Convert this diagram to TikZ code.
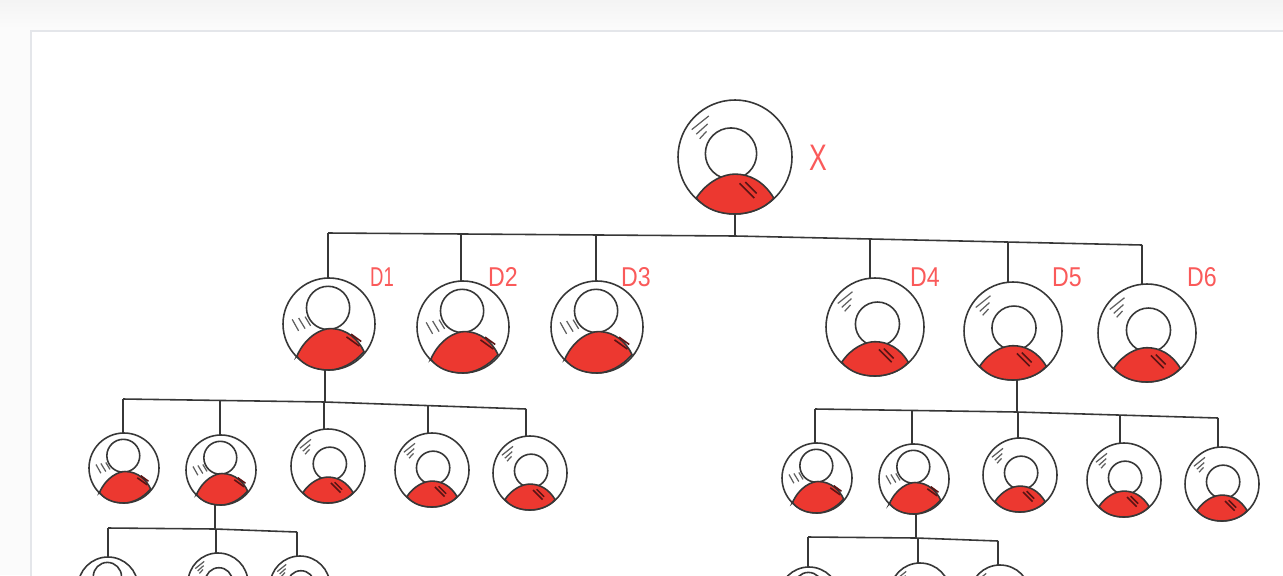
\documentclass[tikz,border=0pt]{standalone}
\usepackage{fontspec}
\setmainfont{Liberation Sans}

\newcommand{\drawhatch}[2]{\foreach \a/\b/\c/\d in {#2} {\draw[#1] (\a,\b) -- (\c,\d);}}
\newcommand{\drawbody}{\draw[body] (-.7,.7) .. controls (-.5,.25) and (-.15,.1) .. (.03,.1) .. controls (.4,.1) and (.65,.35) .. (.76,.6) .. controls (.55,.85) and (.25,1) .. (0,1) .. controls (-.3,1) and (-.55,.9) .. cycle;}

\begin{document}
\begin{tikzpicture}[x=0.02cm, y=-0.02cm,
    outline/.style={draw=inkgray, line width=0.9pt, circle, inner sep=0pt, outer sep=0pt, fill=white},
    head/.style={draw=inkgray, line width=0.9pt},
    body/.style={draw=inkgray, line width=0.9pt, fill=bodyred},
    hatch/.style={draw=inkgray!80, line width=0.7pt},
    bodyhatch/.style={draw=hatchred, line width=0.9pt},
    link/.style={draw=inkgray, line width=0.9pt},
    tag/.style={text=tagred, inner sep=0pt}]

\def\unit{0.02}
\def\textsize{1.55}
\definecolor{inkgray}{RGB}{55,55,55}
\definecolor{bodyred}{RGB}{236,56,48}
\definecolor{hatchred}{RGB}{90,20,20}
\definecolor{tagred}{RGB}{250,90,90}
\definecolor{pagegray}{RGB}{251,251,251}
\definecolor{shadowgray}{RGB}{244,244,244}
\definecolor{cardgray}{RGB}{228,230,234}

\useasboundingbox (0,0) rectangle (1283,575);
\clip (0,0) rectangle (1283,575);

% page and card
\fill[pagegray] (0,0) rectangle (1283,575);
\shade[top color=shadowgray, bottom color=pagegray] (0,0) rectangle (1283,28);
\draw[cardgray, line width=1.2pt, fill=white] (31,31) rectangle (1300,600);

% people, head high with strokes inside
\foreach \name/\x/\y/\rad in {D1/329/324/46, D2/463/327/46, D3/597/327/46,
    A1/124/468/35, A2/221/470/35, B1/817/478/35, B2/914/479/35, C1/108/587/30, E1/809/597/30} {
  \node[outline, minimum size={2*\rad*\unit cm}] (\name) at (\x,\y) {};
  \begin{scope}[shift={(\x,\y)}, scale=\rad]
    \draw[head] (-.02,-.35) circle (.47);
    \drawbody
    \drawhatch{hatch}{-.8/-.1/-.66/.15, -.66/-.13/-.52/.1, -.52/-.16/-.4/.04}
    \drawhatch{bodyhatch}{.38/.28/.66/.48, .48/.22/.7/.38}
  \end{scope}
}

% people, head low with strokes on the rim
\foreach \name/\x/\y/\rad/\hx in {X/735/157/57/-.07, D4/875/327/49/.05, D5/1013/331/49/.02, D6/1147/333/49/.03,
    A3/328/466/37/.05, A4/432/470/37/.03, A5/530/473/37/.03, B3/1020/475/37/.03, B4/1124/480/37/.03, B5/1222/484/37/.03,
    C2/218/583/30/.03, C3/300/586/30/.03, E2/920/593/30/.03, E3/1000/595/30/.03} {
  \node[outline, minimum size={2*\rad*\unit cm}] (\name) at (\x,\y) {};
  \begin{scope}[shift={(\x,\y)}, scale=\rad]
    \draw[head] (\hx,-.06) circle (.45);
    \draw[body] (-.68,.72) .. controls (-.48,.42) and (-.2,.3) .. (0,.3) .. controls (.25,.3) and (.5,.42) .. (.68,.72) .. controls (.5,.93) and (.2,1) .. (0,1) .. controls (-.25,1) and (-.5,.93) .. cycle;
    \drawhatch{hatch}{-.76/-.48/-.46/-.72, -.68/-.4/-.48/-.58, -.62/-.32/-.5/-.45}
    \drawhatch{bodyhatch}{.08/.46/.34/.72, .18/.44/.38/.64}
  \end{scope}
}

% junctions on the bars
\foreach \name/\x/\y in {tX/735/236, tD1/328/233, tD2/461/234, tD3/596/235, tD4/870/239, tD5/1008/242, tD6/1142/245,
    tL/325/402, tA1/123/399, tA2/220/400, tA3/324/402, tA4/428/405, tA5/526/409,
    tR/1017/412, tB1/815/409, tB2/912/410, tB3/1018/412, tB4/1120/415, tB5/1218/418,
    tM/215/529, tC1/108/528, tC2/216/529, tC3/297/532,
    tN/916/538, tE1/808/537, tE2/918/538, tE3/998/541} {
  \coordinate (\name) at (\x,\y);
}

% bars
\draw[link] (tD1) -- (tX) -- (tD6);
\draw[link] (tA1) -- (tL) -- (tA5);
\draw[link] (tB1) -- (tR) -- (tB5);
\draw[link] (tC1) -- (tM) -- (tC3);
\draw[link] (tE1) -- (tN) -- (tE3);

% drops and trunks
\foreach \child in {D1,D2,D3,D4,D5,D6,A1,A2,A3,A4,A5,B1,B2,B3,B4,B5,C1,C2,C3,E1,E2,E3} {
  \draw[link] (t\child) -- (\child.north -| t\child);
}
\draw[link] (X.south -| tX) -- (tX);
\draw[link] (D1.south -| tL) -- (tL);
\draw[link] (D5.south -| tR) -- (tR);
\draw[link] (A2.south -| tM) -- (tM);
\draw[link] (B2.south -| tN) -- (tN);

% labels
\node[tag, scale=2.1, xscale=.72] (lX) at (818,158) {X};
\foreach \name/\x/\sx in {D1/382/.68, D2/503/.85, D3/636/.85, D4/925/.85, D5/1067/.85, D6/1202/.85} {
  \node[tag, scale=\textsize, xscale=\sx] (l\name) at (\x,277) {\name};
}

\end{tikzpicture}
\end{document}
